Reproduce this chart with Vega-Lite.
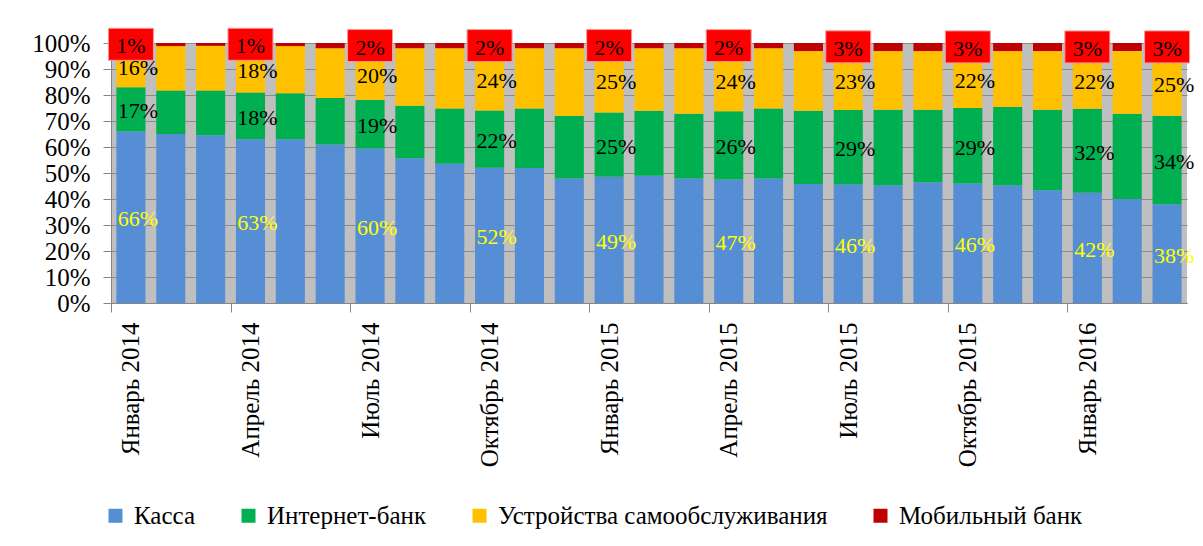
{
  "$schema": "https://vega.github.io/schema/vega-lite/v6.json",
  "width": 1076,
  "height": 260,
  "autosize": {"type": "none"},
  "padding": {"left": 111, "top": 43, "right": 16, "bottom": 243},
  "config": {
    "font": "Liberation Serif",
    "view": {"fill": "#BFBFBF", "stroke": null},
    "axis": {"labelFont": "Liberation Serif", "labelColor": "#000000", "domainColor": "#868686", "tickColor": "#868686"},
    "axisY": {"labelOverlap": false, "labelFontSize": 25, "tickSize": 8, "labelPadding": 13, "grid": true, "gridColor": "#8A8A8A", "gridWidth": 1},
    "legend": {"labelFont": "Liberation Serif"},
    "text": {"font": "Liberation Serif"}
  },
  "data": {
    "values": [
      {"m": "Январь 2014", "Касса": 66, "Интернет-банк": 17, "Устройства самообслуживания": 16, "Мобильный банк": 1},
      {"m": "Февраль 2014", "Касса": 65.0, "Интернет-банк": 16.7, "Устройства самообслуживания": 17.1, "Мобильный банк": 1.2},
      {"m": "Март 2014", "Касса": 64.5, "Интернет-банк": 17.2, "Устройства самообслуживания": 17.2, "Мобильный банк": 1.1},
      {"m": "Апрель 2014", "Касса": 63, "Интернет-банк": 18, "Устройства самообслуживания": 18, "Мобильный банк": 1},
      {"m": "Май 2014", "Касса": 63.0, "Интернет-банк": 17.7, "Устройства самообслуживания": 18.1, "Мобильный банк": 1.2},
      {"m": "Июнь 2014", "Касса": 61.0, "Интернет-банк": 17.8, "Устройства самообслуживания": 19.2, "Мобильный банк": 2.0},
      {"m": "Июль 2014", "Касса": 60, "Интернет-банк": 19, "Устройства самообслуживания": 20, "Мобильный банк": 2},
      {"m": "Август 2014", "Касса": 55.7, "Интернет-банк": 20.2, "Устройства самообслуживания": 22.1, "Мобильный банк": 2.0},
      {"m": "Сентябрь 2014", "Касса": 53.6, "Интернет-банк": 21.2, "Устройства самообслуживания": 23.2, "Мобильный банк": 2.0},
      {"m": "Октябрь 2014", "Касса": 52, "Интернет-банк": 22, "Устройства самообслуживания": 24, "Мобильный банк": 2},
      {"m": "Ноябрь 2014", "Касса": 51.9, "Интернет-банк": 22.9, "Устройства самообслуживания": 23.2, "Мобильный банк": 2.0},
      {"m": "Декабрь 2014", "Касса": 47.9, "Интернет-банк": 24.0, "Устройства самообслуживания": 26.1, "Мобильный банк": 2.0},
      {"m": "Январь 2015", "Касса": 49, "Интернет-банк": 25, "Устройства самообслуживания": 25, "Мобильный банк": 2},
      {"m": "Февраль 2015", "Касса": 48.9, "Интернет-банк": 25.0, "Устройства самообслуживания": 24.1, "Мобильный банк": 2.0},
      {"m": "Март 2015", "Касса": 47.9, "Интернет-банк": 24.9, "Устройства самообслуживания": 25.2, "Мобильный банк": 2.0},
      {"m": "Апрель 2015", "Касса": 47, "Интернет-банк": 26, "Устройства самообслуживания": 24, "Мобильный банк": 2},
      {"m": "Май 2015", "Касса": 47.9, "Интернет-банк": 26.9, "Устройства самообслуживания": 23.2, "Мобильный банк": 2.0},
      {"m": "Июнь 2015", "Касса": 45.8, "Интернет-банк": 28.1, "Устройства самообслуживания": 23.0, "Мобильный банк": 3.1},
      {"m": "Июль 2015", "Касса": 46, "Интернет-банк": 29, "Устройства самообслуживания": 23, "Мобильный банк": 3},
      {"m": "Август 2015", "Касса": 45.3, "Интернет-банк": 29.0, "Устройства самообслуживания": 22.6, "Мобильный банк": 3.1},
      {"m": "Сентябрь 2015", "Касса": 46.4, "Интернет-банк": 27.9, "Устройства самообслуживания": 22.6, "Мобильный банк": 3.1},
      {"m": "Октябрь 2015", "Касса": 46, "Интернет-банк": 29, "Устройства самообслуживания": 22, "Мобильный банк": 3},
      {"m": "Ноябрь 2015", "Касса": 45.3, "Интернет-банк": 30.1, "Устройства самообслуживания": 21.5, "Мобильный банк": 3.1},
      {"m": "Декабрь 2015", "Касса": 43.4, "Интернет-банк": 30.9, "Устройства самообслуживания": 22.6, "Мобильный банк": 3.1},
      {"m": "Январь 2016", "Касса": 42, "Интернет-банк": 32, "Устройства самообслуживания": 22, "Мобильный банк": 3},
      {"m": "Февраль 2016", "Касса": 40.0, "Интернет-банк": 32.8, "Устройства самообслуживания": 24.1, "Мобильный банк": 3.1},
      {"m": "Март 2016", "Касса": 38, "Интернет-банк": 34, "Устройства самообслуживания": 25, "Мобильный банк": 3}
    ]
  },
  "transform": [
    {"fold": ["Касса", "Интернет-банк", "Устройства самообслуживания", "Мобильный банк"], "as": ["ch", "v"]},
    {"calculate": "indexof(['Касса', 'Интернет-банк', 'Устройства самообслуживания', 'Мобильный банк'], datum.ch)", "as": "ord"},
    {"stack": "v", "groupby": ["m"], "sort": [{"field": "ord", "order": "ascending"}], "offset": "normalize", "as": ["lo", "hi"]},
    {"calculate": "(datum.lo + datum.hi) / 2", "as": "mid"},
    {"calculate": "format(datum.v, '.0f') + '%'", "as": "lbl"}
  ],
  "encoding": {
    "x": {
      "field": "m", "type": "nominal", "sort": null, "title": null,
      "scale": {"paddingInner": 0.27, "paddingOuter": 0.135},
      "axis": {
        "values": ["Январь 2014", "Апрель 2014", "Июль 2014", "Октябрь 2014", "Январь 2015", "Апрель 2015", "Июль 2015", "Октябрь 2015", "Январь 2016"],
        "labelAngle": 270, "labelFontSize": 25, "tickSize": 9, "labelPadding": 10,
        "tickOffset": -19.93, "labelOffset": 19.93, "grid": false, "labelLimit": 0, "labelOverlap": false
      }
    }
  },
  "layer": [
    {
      "mark": {"type": "bar"},
      "encoding": {
        "y": {
          "field": "v", "type": "quantitative", "stack": "normalize", "title": null,
          "scale": {"domain": [0, 1]},
          "axis": {"format": ".0%", "values": [0, 0.1, 0.2, 0.3, 0.4, 0.5, 0.6, 0.7, 0.8, 0.9, 1], "labelOverlap": false, "labelFontSize": 25, "title": null}
        },
        "order": {"field": "ord", "type": "quantitative", "sort": "ascending"},
        "color": {
          "field": "ch", "type": "nominal", "title": null,
          "scale": {
            "domain": ["Касса", "Интернет-банк", "Устройства самообслуживания", "Мобильный банк"],
            "range": ["#558ED5", "#00B050", "#FFC000", "#C00000"]
          },
          "legend": {
            "orient": "none", "legendX": -8, "legendY": 460, "direction": "horizontal",
            "symbolType": "square", "symbolSize": 196, "symbolStrokeWidth": 0,
            "labelFontSize": 25, "labelColor": "#000000",
            "labelLimit": 0, "columnPadding": 40, "labelOffset": 6
          }
        }
      }
    },
    {
      "transform": [
        {"filter": {"field": "m", "oneOf": ["Январь 2014", "Апрель 2014", "Июль 2014", "Октябрь 2014", "Январь 2015", "Апрель 2015", "Июль 2015", "Октябрь 2015", "Январь 2016", "Март 2016"]}},
        {"filter": "datum.ch == 'Касса'"}
      ],
      "mark": {"type": "text", "fontSize": 22, "color": "#FFFF00", "dx": 7, "dy": 2},
      "encoding": {
        "y": {"field": "mid", "type": "quantitative", "title": null, "scale": {"domain": [0, 1]}, "axis": {"format": ".0%", "values": [0, 0.1, 0.2, 0.3, 0.4, 0.5, 0.6, 0.7, 0.8, 0.9, 1], "labelOverlap": false, "labelFontSize": 25, "title": null}},
        "text": {"field": "lbl"}
      }
    },
    {
      "transform": [
        {"filter": {"field": "m", "oneOf": ["Январь 2014", "Апрель 2014", "Июль 2014", "Октябрь 2014", "Январь 2015", "Апрель 2015", "Июль 2015", "Октябрь 2015", "Январь 2016", "Март 2016"]}},
        {"filter": "datum.ch == 'Интернет-банк' || datum.ch == 'Устройства самообслуживания'"}
      ],
      "mark": {"type": "text", "fontSize": 22, "color": "#000000", "dx": 7, "dy": 2},
      "encoding": {
        "y": {"field": "mid", "type": "quantitative", "title": null, "scale": {"domain": [0, 1]}, "axis": {"format": ".0%", "values": [0, 0.1, 0.2, 0.3, 0.4, 0.5, 0.6, 0.7, 0.8, 0.9, 1], "labelOverlap": false, "labelFontSize": 25, "title": null}},
        "text": {"field": "lbl"}
      }
    },
    {
      "transform": [
        {"filter": {"field": "m", "oneOf": ["Январь 2014", "Апрель 2014", "Июль 2014", "Октябрь 2014", "Январь 2015", "Апрель 2015", "Июль 2015", "Октябрь 2015", "Январь 2016", "Март 2016"]}},
        {"filter": "datum.ch == 'Мобильный банк'"}
      ],
      "mark": {"type": "point", "filled": true, "shape": "M-1,-0.711L1,-0.711L1,0.711L-1,0.711Z", "size": 2025, "fill": "#FF0000", "stroke": "#F49A9A", "strokeWidth": 1, "opacity": 1},
      "encoding": {
        "y": {"field": "mid", "type": "quantitative", "title": null, "scale": {"domain": [0, 1]}, "axis": {"format": ".0%", "values": [0, 0.1, 0.2, 0.3, 0.4, 0.5, 0.6, 0.7, 0.8, 0.9, 1], "labelOverlap": false, "labelFontSize": 25, "title": null}}
      }
    },
    {
      "transform": [
        {"filter": {"field": "m", "oneOf": ["Январь 2014", "Апрель 2014", "Июль 2014", "Октябрь 2014", "Январь 2015", "Апрель 2015", "Июль 2015", "Октябрь 2015", "Январь 2016", "Март 2016"]}},
        {"filter": "datum.ch == 'Мобильный банк'"}
      ],
      "mark": {"type": "text", "fontSize": 22, "color": "#000000", "dy": 2},
      "encoding": {
        "y": {"field": "mid", "type": "quantitative", "title": null, "scale": {"domain": [0, 1]}, "axis": {"format": ".0%", "values": [0, 0.1, 0.2, 0.3, 0.4, 0.5, 0.6, 0.7, 0.8, 0.9, 1], "labelOverlap": false, "labelFontSize": 25, "title": null}},
        "text": {"field": "lbl"}
      }
    }
  ]
}
